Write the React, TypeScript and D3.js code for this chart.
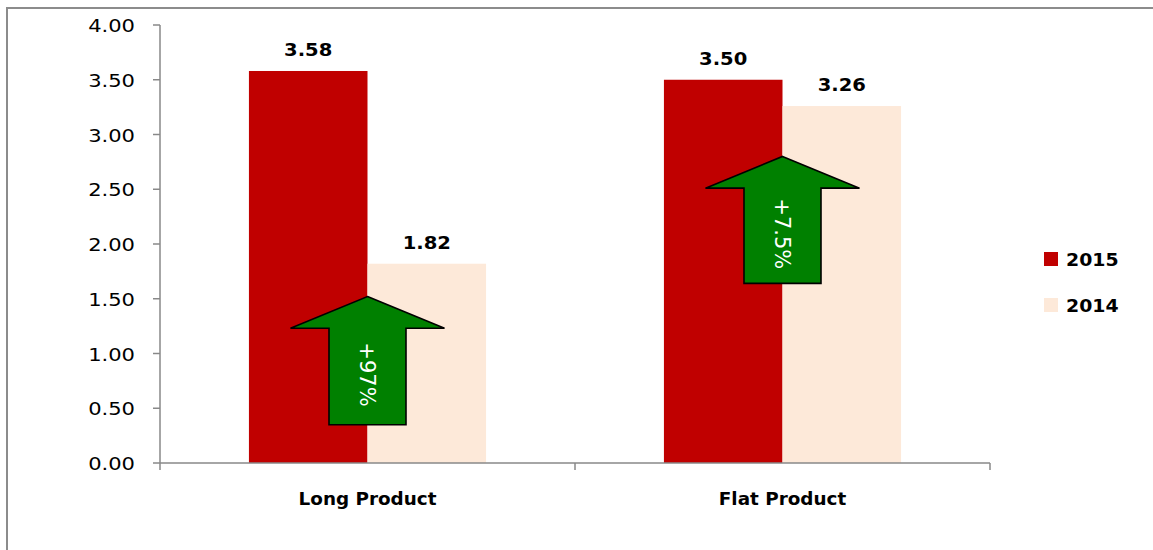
import React from "react";
import * as d3 from "d3";

const categories = ["Long Product", "Flat Product"];
const seriesNames = ["2015", "2014"];
const values2015 = [3.58, 3.5];
const values2014 = [1.82, 3.26];
const seriesColors = ["#C00000", "#FDE9D9"];
const yTicks = [0, 0.5, 1, 1.5, 2, 2.5, 3, 3.5, 4];
// annotation arrows: [tip, head base, bottom] in data units, label
const arrowTips = [1.52, 2.8];
const arrowHeadBases = [1.23, 2.51];
const arrowBottoms = [0.35, 1.64];
const arrowLabels = ["+97%", "+7.5%"];

const W = 1153;
const H = 550;
const left = 160;
const right = 990;
const top = 25;
const bottom = 463;

function SText({ x, y, sx, children, anchor = "middle", size, weight = "normal", fill = "#000" }: any) {
  return (
    <text
      transform={`translate(${x},${y}) scale(${sx},1)`}
      textAnchor={anchor}
      fontSize={size}
      fontWeight={weight}
      fill={fill}
      fontFamily="DejaVu Sans, Verdana, sans-serif"
    >
      {children}
    </text>
  );
}

export default function App() {
  const x = d3.scaleBand<string>().domain(categories).range([left, right]);
  const inner = d3.scaleBand<string>().domain(seriesNames).range([0, x.bandwidth()]).paddingInner(0).paddingOuter(0.75);
  const y = d3.scaleLinear().domain([0, 4]).range([bottom, top]);
  const series = [values2015, values2014];
  const fmt = d3.format(".2f");

  return (
    <svg width={W} height={H} style={{ position: "absolute", left: 0, top: 0, background: "#fff" }}>
      <rect x={7} y={8} width={W + 20} height={H + 20} fill="#fff" stroke="#8c8c8c" strokeWidth={2} />
      {/* bars */}
      {categories.map((c, ci) =>
        seriesNames.map((s, si) => {
          const v = series[si][ci];
          const bx = (x(c) as number) + (inner(s) as number);
          return (
            <g key={c + s}>
              <rect x={bx} y={y(v)} width={inner.bandwidth()} height={bottom - y(v)} fill={seriesColors[si]} />
              <SText x={bx + inner.bandwidth() / 2} y={y(v) - 15} sx={1.15} size={17} weight="bold">
                {fmt(v)}
              </SText>
            </g>
          );
        })
      )}
      {/* y axis */}
      <line x1={left} x2={left} y1={top} y2={bottom} stroke="#888" strokeWidth={1.5} />
      {yTicks.map((t) => (
        <g key={t}>
          <line x1={left - 7} x2={left} y1={y(t)} y2={y(t)} stroke="#888" strokeWidth={1.5} />
          <SText x={135} y={y(t) + 7} sx={1.17} size={18} anchor="end">
            {fmt(t)}
          </SText>
        </g>
      ))}
      {/* x axis */}
      <line x1={left} x2={right} y1={bottom} y2={bottom} stroke="#888" strokeWidth={1.5} />
      {[left, ...categories.map((c) => (x(c) as number) + x.bandwidth())].map((px, i) => (
        <line key={i} x1={px} x2={px} y1={bottom} y2={bottom + 7} stroke="#888" strokeWidth={1.5} />
      ))}
      {categories.map((c) => (
        <SText key={c} x={(x(c) as number) + x.bandwidth() / 2} y={505} sx={1.02} size={18} weight="bold">
          {c}
        </SText>
      ))}
      {/* arrows */}
      {categories.map((c, i) => {
        const cx = (x(c) as number) + x.bandwidth() / 2;
        const tip = y(arrowTips[i]);
        const hb = y(arrowHeadBases[i]);
        const bt = y(arrowBottoms[i]);
        const hw = 77;
        const sw = 38.5;
        const path = `M${cx},${tip} L${cx + hw},${hb} L${cx + sw},${hb} L${cx + sw},${bt} L${cx - sw},${bt} L${cx - sw},${hb} L${cx - hw},${hb} Z`;
        const ty = (hb + bt) / 2 - 2;
        return (
          <g key={c + "arrow"}>
            <path d={path} fill="#008000" stroke="#000" strokeWidth={1.6} strokeLinejoin="miter" />
            <text
              transform={`translate(${cx},${ty}) rotate(90)`}
              textAnchor="middle"
              dy="0.35em"
              fontSize={21}
              fill="#fff"
              fontFamily="DejaVu Sans, Verdana, sans-serif"
            >
              {arrowLabels[i]}
            </text>
          </g>
        );
      })}
      {/* legend */}
      {seriesNames.map((s, i) => (
        <g key={s}>
          <rect x={1044} y={252 + i * 46} width={14} height={14} fill={seriesColors[i]} />
          <SText x={1066} y={266 + i * 46} sx={1.05} size={18} weight="bold" anchor="start">
            {s}
          </SText>
        </g>
      ))}
    </svg>
  );
}
